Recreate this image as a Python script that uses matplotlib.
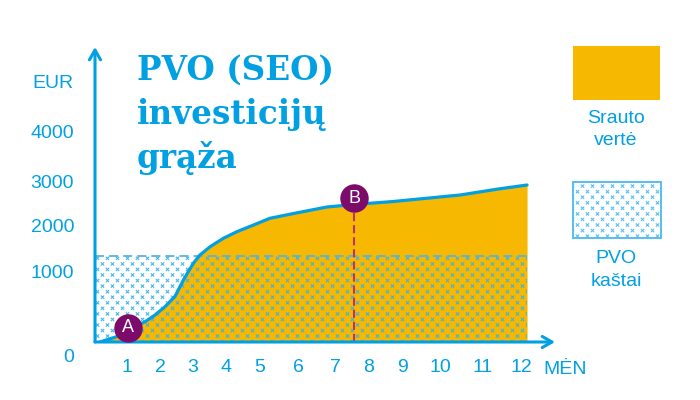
import numpy as np
import matplotlib
matplotlib.use('Agg')
import matplotlib.pyplot as plt
import matplotlib.hatch as mhatch
from matplotlib.path import Path
from matplotlib.patches import Rectangle

BLUE = '#00a0e3'
ORANGE = '#f6b800'
PURPLE = '#7d0b6c'
HATCH_BLUE = (0.22, 0.70, 0.92, 0.95)

# curve (month, EUR)
months = [0.16, 0.42, 0.68, 1.04, 1.55, 1.85, 2.15, 2.45, 2.71, 3.01, 3.21, 3.52,
          3.92, 4.32, 4.81, 5.26, 5.82, 6.78, 7.56, 8.73, 10.47, 11.4, 12.16]
value = [0, 39, 76, 171, 290, 386, 504, 647, 886, 1189, 1370, 1550,
         1733, 1876, 2022, 2171, 2267, 2422, 2478, 2544, 2689, 2822, 2911]
cost = 1354
end_month = 12.16
a_month, a_value = 1.04, 200
b_month, b_value = 7.56, 2620

x_ticks = [1, 2, 3, 4, 5, 6, 7, 8, 9, 10, 11, 12]
y_ticks = [1000, 2000, 3000, 4000]

# the axes of the original are drawn by hand: label spacing is not even,
# so map data -> pixel with the positions
x_knots = [0, 1, 2, 3, 4, 5, 6, 7, 8, 9, 10, 11, 12, 16]
x_px = [95, 127, 160, 193, 226, 260, 298, 335, 369, 402, 440, 483, 521, 673]
y_knots = [-830, 0, 1000, 2000, 3000, 4000, 6620]
y_px = [0, 58, 128, 174, 219, 269, 400]   # from bottom of figure


def x_fwd(m):
    return np.interp(m, x_knots, x_px)


def x_inv(p):
    return np.interp(p, x_px, x_knots)


def y_fwd(v):
    return np.interp(v, y_knots, y_px)


def y_inv(p):
    return np.interp(p, y_px, y_knots)


# staggered small "x" marks like the picture, used for hatch '*'
class CrossMarks(mhatch.HatchPatternBase):
    cols = 10
    rows = 18
    half = 0.013

    def __init__(self, hatch, density):
        self.num_vertices = 4 * self.cols * self.rows if '*' in hatch else 0

    def set_vertices_and_codes(self, vertices, codes):
        k = 0
        h = self.half
        for r in range(self.rows):
            y = (r + 0.5) / self.rows
            for c in range(self.cols):
                x = (c + 0.25 + 0.5 * (r % 2)) / self.cols
                vertices[k:k + 4] = [[x - h, y - h], [x + h, y + h], [x - h, y + h], [x + h, y - h]]
                codes[k:k + 4] = [Path.MOVETO, Path.LINETO, Path.MOVETO, Path.LINETO]
                k += 4


mhatch._hatch_types = [t for t in mhatch._hatch_types if t is not mhatch.Stars] + [CrossMarks]
plt.rcParams['hatch.linewidth'] = 0.75
plt.rcParams['hatch.color'] = HATCH_BLUE
plt.rcParams['font.family'] = 'Liberation Sans'

fig = plt.figure(figsize=(7, 4), dpi=100)
ax = fig.add_axes([95/700, 58/400, 460/700, 295/400])
ax.set_xscale('function', functions=(x_fwd, x_inv))
ax.set_yscale('function', functions=(y_fwd, y_inv))
ax.set_xlim(0, x_inv(555))
ax.set_ylim(0, y_inv(353))

ax.fill_between(months, value, 0, color=ORANGE, lw=0, zorder=1)
ax.add_patch(Rectangle((0, 0), end_month, cost, facecolor='none', edgecolor=HATCH_BLUE,
                       lw=0, hatch='*', zorder=2))
ax.plot([0, end_month], [cost, cost], color=(0.35, 0.70, 0.86), lw=1.3, dashes=(5, 2.8), zorder=3)
ax.plot(months, value, color=BLUE, lw=2.3, solid_capstyle='round', solid_joinstyle='round', zorder=4)
ax.plot([b_month, b_month], [0, b_value], color='#b8336f', lw=1.5, dashes=(3.9, 1.9), zorder=3)

for m, v, lab in [(a_month, a_value, 'A'), (b_month, b_value, 'B')]:
    ax.scatter([m], [v], s=420, color=PURPLE, lw=0, zorder=5)
    ax.text(m, v, lab, ha='center', va='center', color='white', fontsize=13, zorder=6)

for s in ax.spines.values():
    s.set_visible(False)
arrow = dict(arrowstyle='->,head_length=0.7,head_width=0.4', lw=2.2, color=BLUE,
             shrinkA=0, shrinkB=0)
ax.annotate('', xy=(0, 1), xytext=(0, 0), xycoords='axes fraction', arrowprops=arrow)
ax.annotate('', xy=(1, 0), xytext=(0, 0), xycoords='axes fraction', arrowprops=arrow)

ax.set_xticks(x_ticks)
ax.set_xticklabels([str(t) for t in x_ticks])
ax.set_yticks(y_ticks)
ax.set_yticklabels([str(t) for t in y_ticks])
ax.tick_params(length=0, labelsize=14, labelcolor=BLUE)
ax.tick_params(axis='x', pad=12)
ax.tick_params(axis='y', pad=15)
ax.annotate('0', xy=(0, 0), xycoords='axes fraction', xytext=(-15, -11),
            textcoords='offset points', ha='right', va='center', fontsize=14, color=BLUE)
ax.set_ylabel('EUR', rotation=0, ha='right', va='center', fontsize=14, color=BLUE)
ax.yaxis.set_label_coords(-21/460, 259/295)
ax.set_xlabel('MĖN', ha='center', va='center', fontsize=14, color=BLUE)
ax.xaxis.set_label_coords(470/460, -28/295)

# title
title_lines = ['PVO (SEO)', 'investicijų', 'grąža']
for i, line in enumerate(title_lines):
    fig.text(137/700, 1 - (80 + 44*i)/400, line, fontsize=23.5, fontweight='bold',
             family='DejaVu Serif', color=BLUE, va='baseline', ha='left')

# legend
fig.add_artist(Rectangle((573/700, 300/400), 87/700, 54/400, transform=fig.transFigure,
                         facecolor=ORANGE, lw=0))
fig.text(616/700, 1 - 129.5/400, 'Srauto\nvertė', ha='center', va='center', fontsize=14,
         color=BLUE, linespacing=1.4)
fig.add_artist(Rectangle((573/700, 162/400), 88/700, 56/400, transform=fig.transFigure,
                         facecolor='white', edgecolor=(0.33, 0.75, 0.94), lw=1.4, hatch='*'))
fig.text(616/700, 1 - 270/400, 'PVO\nkaštai', ha='center', va='center', fontsize=14,
         color=BLUE, linespacing=1.4)

fig.savefig('out.png', dpi=100)
